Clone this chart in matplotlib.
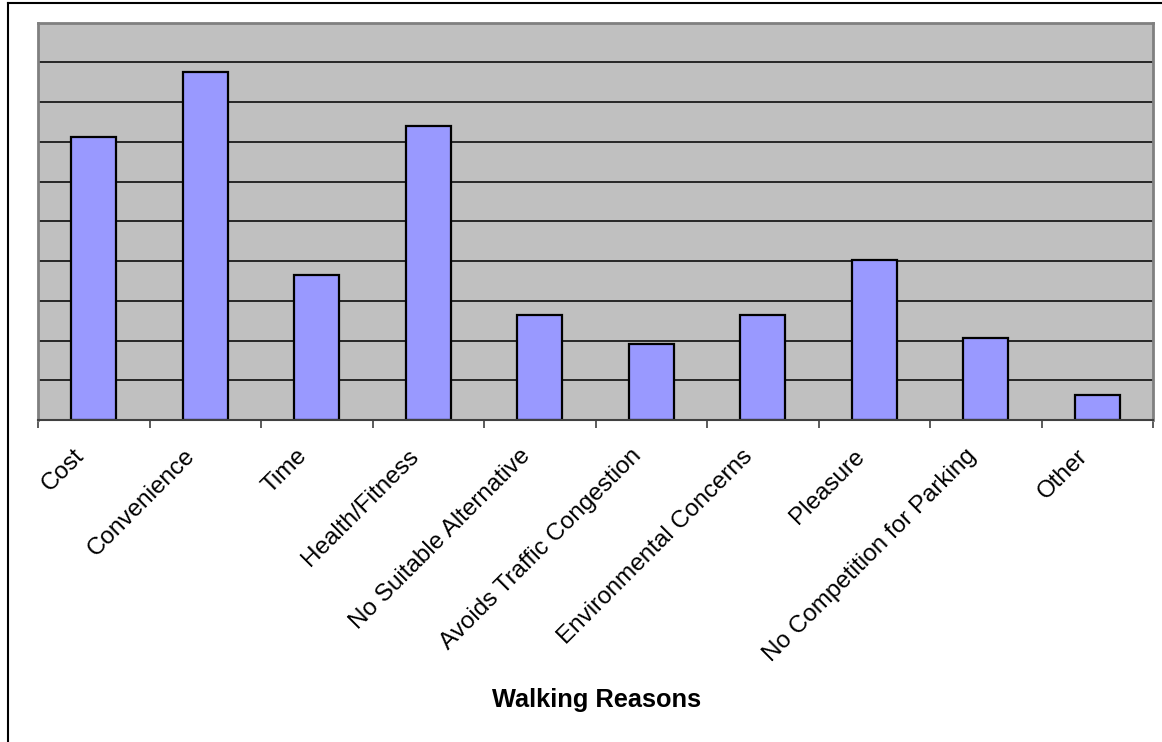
import numpy as np
import matplotlib
matplotlib.use("Agg")
import matplotlib.pyplot as plt
from matplotlib.lines import Line2D
from matplotlib.transforms import ScaledTranslation

reasons = ["Cost", "Convenience", "Time", "Health/Fitness", "No Suitable Alternative",
           "Avoids Traffic Congestion", "Environmental Concerns", "Pleasure",
           "No Competition for Parking", "Other"]
values = [7.12, 8.76, 3.66, 7.40, 2.64, 1.92, 2.64, 4.03, 2.07, 0.63]

plt.rcParams['font.family'] = ['Liberation Sans', 'DejaVu Sans']

W, H, DPI = 1162, 742, 100
fig = plt.figure(figsize=(W / DPI, H / DPI), dpi=DPI)
fig.patch.set_facecolor("white")

ax = fig.add_axes([38 / W, 1 - 420 / H, (1153 - 38) / W, (420 - 22.7) / H])
ax.set_facecolor("#C0C0C0")

x = np.arange(len(reasons))
ax.set_xlim(-0.5, len(reasons) - 0.5)
ax.set_ylim(0, 10)

for y in range(1, 10):
    ax.axhline(y, color="#1a1a1a", lw=1.3, zorder=1)

ax.bar(x, values, width=0.4, color="#9999FF", edgecolor="black", linewidth=1.6, zorder=2)

for s in ["left", "top", "right"]:
    ax.spines[s].set_color("#808080")
    ax.spines[s].set_linewidth(2)
ax.spines["bottom"].set_color("#404040")
ax.spines["bottom"].set_linewidth(1.5)

ax.set_yticks([])
ax.set_xticks(np.arange(-0.5, len(reasons), 1.0))
ax.set_xticklabels([])
ax.tick_params(axis="x", direction="out", length=6, width=1.2, color="#404040")

off = ax.get_xaxis_transform() + ScaledTranslation(-21 / DPI, -25 / DPI, fig.dpi_scale_trans)
for xi, lab in zip(x, reasons):
    ax.text(xi, 0, lab, transform=off, rotation=45, rotation_mode="anchor",
            ha="right", va="top", fontsize=17.5, color="black")

fig.text(597 / W, 1 - 700 / H, "Walking Reasons", ha="center", va="center",
         fontsize=18.3, fontweight="bold")

# chart frame
fig.add_artist(Line2D([8 / W, 8 / W], [0, 1 - 3 / H], color="black", lw=1.5,
                      transform=fig.transFigure))
fig.add_artist(Line2D([8 / W, 1], [1 - 3 / H, 1 - 3 / H], color="black", lw=1.5,
                      transform=fig.transFigure))

fig.savefig("out.png", dpi=DPI)
